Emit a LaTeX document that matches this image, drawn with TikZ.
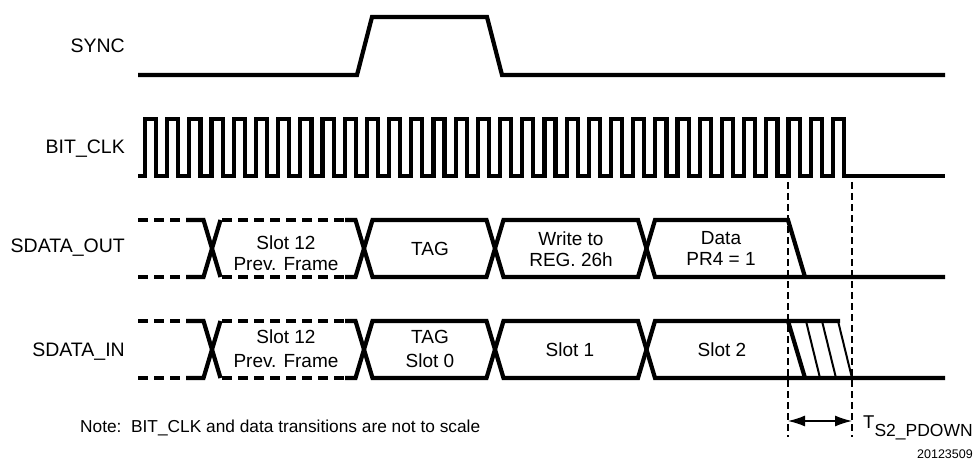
\documentclass[tikz,border=0pt]{standalone}
\usepackage{fontspec}
\setmainfont{Liberation Sans}
\usetikzlibrary{arrows.meta}
\begin{document}
\begin{tikzpicture}[x=1pt,y=-1pt,line join=miter,
  wave/.style={line width=4.2pt},
  busdash/.style={line width=4.2pt,dash pattern=on 10pt off 6pt},
  guide/.style={line width=1.4pt,dash pattern=on 7pt off 4pt},
  hatch/.style={line width=2pt},
  lbl/.style={font=\fontsize{19}{23}\selectfont,inner sep=0pt,anchor=base},
  sig/.style={font=\fontsize{19.5}{23}\selectfont,inner sep=0pt,anchor=base east}]
\useasboundingbox (0,0) rectangle (975,468);
% signal names
\node[sig] (nsync) at (125,53) {SYNC};
\node[sig] (nclk) at (125,154) {BIT\_CLK};
\node[sig] (nout) at (125,252) {SDATA\_OUT};
\node[sig] (nin) at (125,356) {SDATA\_IN};
% SYNC
\draw[wave] (138,75) -- (357,75) -- (372,17) -- (487,17) -- (502,75) -- (945,75);
% BIT_CLK
\draw[wave] (138,176) foreach \k in {0,...,31} {
  -- ({145+\k*22.19},176) -- ({145+\k*22.19},119)
  -- ({156.1+\k*22.19},119) -- ({156.1+\k*22.19},176) } -- (945,176);
% SDATA_OUT  (top 220, bottom 277)
\draw[busdash] (138,220) -- (186,220);
\draw[busdash] (138,277) -- (186,277);
\draw[wave] (186,220) -- (203.5,220) -- (220.5,277);
\draw[wave] (186,277) -- (203.5,277) -- (220.5,220);
\draw[busdash] (222,220) -- (345,220);
\draw[busdash] (222,277) -- (345,277);
\draw[wave] (345,220) -- (355.5,220) -- (372.5,277) -- (486.5,277) -- (503.5,220) -- (638,220) -- (655,277) -- (945,277);
\draw[wave] (345,277) -- (355.5,277) -- (372.5,220) -- (486.5,220) -- (503.5,277) -- (638,277) -- (655,220) -- (788,220) -- (805,277);
% SDATA_IN (top 321, bottom 378)
\draw[busdash] (138,321) -- (186,321);
\draw[busdash] (138,378) -- (186,378);
\draw[wave] (186,321) -- (203.5,321) -- (220.5,378);
\draw[wave] (186,378) -- (203.5,378) -- (220.5,321);
\draw[busdash] (222,321) -- (345,321);
\draw[busdash] (222,378) -- (345,378);
\draw[wave] (345,321) -- (355.5,321) -- (372.5,378) -- (486.5,378) -- (503.5,321) -- (638,321) -- (655,378) -- (945,378);
\draw[wave] (345,378) -- (355.5,378) -- (372.5,321) -- (486.5,321) -- (503.5,378) -- (638,378) -- (655,321) -- (840,321);
\draw[wave] (788,321) -- (805,378);
\draw[hatch] (806,321) -- (820,378);
\draw[hatch] (822,321) -- (836,378);
\draw[hatch] (838,321) -- (852,378);
% slot labels OUT
\node[lbl] (o1a) at (286,249) {Slot 12};
\node[lbl] (o1b) at (286,270) {Prev. Frame};
\node[lbl] (o2) at (430,255) {TAG};
\node[lbl] (o3a) at (571,245) {Write to};
\node[lbl] (o3b) at (571,266) {REG. 26h};
\node[lbl] (o4a) at (721,244) {Data};
\node[lbl] (o4b) at (721,265) {PR4 = 1};
% slot labels IN
\node[lbl] (i1a) at (286,343) {Slot 12};
\node[lbl] (i1b) at (286,367) {Prev. Frame};
\node[lbl] (i2a) at (430,343) {TAG};
\node[lbl] (i2b) at (430,367) {Slot 0};
\node[lbl] (i3) at (570,356) {Slot 1};
\node[lbl] (i4) at (722,356) {Slot 2};
% timing guides
\coordinate (g1t) at (788,182);
\coordinate (g1b) at (788,437);
\coordinate (g2t) at (852,182);
\coordinate (g2b) at (852,437);
\draw[guide] (g1t) -- (g1b);
\draw[guide] (g2t) -- (g2b);
\coordinate (a1) at (788,421);
\coordinate (a2) at (852,421);
\draw[line width=1.4pt,{Latex[length=17pt,width=11pt]}-{Latex[length=17pt,width=11pt]}] (a1) -- (a2);
\node[inner sep=0pt,anchor=base west,font=\fontsize{18.5}{20}\selectfont] (tpd) at (863,428) {T\raisebox{-8pt}{\fontsize{17.5}{18}\selectfont S2\_PDOWN}};
% note
\node[inner sep=0pt,anchor=base west,font=\fontsize{17.3}{20}\selectfont] (note) at (80,432) {Note:\ \ BIT\_CLK and data transitions are not to scale};
\node[inner sep=0pt,anchor=base east,font=\fontsize{12.5}{14}\selectfont] (fig) at (973,458) {20123509};
\end{tikzpicture}
\end{document}
